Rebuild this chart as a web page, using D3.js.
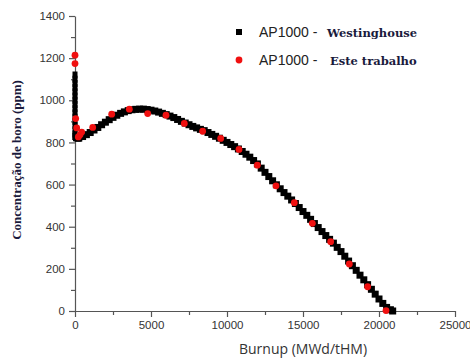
<!DOCTYPE html>
<html>
<head>
<meta charset="utf-8">
<script src="https://cdn.jsdelivr.net/npm/d3@7"></script>
<style>
  body { margin: 0; background: #fff; }
  .tick text { font-family: "Liberation Sans", Arial, sans-serif; font-size: 11.5px; fill: #333; }
  .domain, .tick line { stroke: #555; stroke-width: 1.2; }
</style>
</head>
<body>
<script>
// Westinghouse curve (black squares)
const westBurnup = [
  0, 0, 0, 0, 0, 0, 0, 0, 0, 0, 0, 0, 0, 0, 0, 50, 100, 200,
  250, 500, 750, 1000, 1250, 1500, 1750, 2000, 2250, 2500, 2750, 3000,
  3250, 3500, 3750, 4000, 4250, 4500, 4750, 5000, 5250, 5500, 5750, 6000,
  6250, 6500, 6750, 7000, 7250, 7500, 7750, 8000, 8250, 8500, 8750, 9000,
  9250, 9500, 9750, 10000, 10250, 10500, 10750, 11000, 11250, 11500, 11750, 12000,
  12250, 12500, 12750, 13000, 13250, 13500, 13750, 14000, 14250, 14500, 14750, 15000,
  15250, 15500, 15750, 16000, 16250, 16500, 16750, 17000, 17250, 17500, 17750, 18000,
  18250, 18500, 18750, 19000, 19250, 19500, 19750, 20000, 20250, 20500, 20750, 20900
];
const westBoron = [
  1120, 1100, 1080, 1060, 1040, 1020, 1000, 980, 960, 940, 920, 900, 880, 860, 840, 828, 822, 820,
  821, 828, 837, 847, 859, 871, 884, 896, 908, 919, 929, 938,
  945, 951, 955, 957, 958, 958, 956, 953, 949, 944, 938, 932,
  925, 918, 909, 900, 892, 884, 876, 869, 862, 856, 847, 838,
  829, 820, 810, 800, 790, 780, 769, 757, 744, 730, 714, 698,
  678, 658, 638, 618, 599, 580, 562, 545, 527, 510, 491, 472,
  454, 435, 415, 396, 377, 358, 340, 322, 302, 282, 260, 237,
  215, 193, 170, 148, 125, 103, 80, 57, 36, 17, 6, 0
];

// Este trabalho (red circles)
const thisBurnup = [
  0, 0, 46, 110, 217, 329, 440, 1164, 2414, 3575, 4781, 5987,
  7193, 8399, 9584, 10789, 11996, 13224, 14430, 15614, 16820, 18048, 19253, 20460
];
const thisBoron = [
  1214, 1174, 913, 869, 826, 836, 849, 871, 934, 958, 937, 929,
  890, 853, 819, 767, 692, 594, 514, 416, 329, 223, 115, 2
];

const xTicks = [0, 5000, 10000, 15000, 20000, 25000];
const yTicks = [0, 200, 400, 600, 800, 1000, 1200, 1400];

const canvass = { width: 470, height: 358, left: 75, right: 455, top: 16, bottom: 311 };

const svg = d3.select("body").append("svg")
  .attr("width", canvass.width)
  .attr("height", canvass.height);

const xScale = d3.scaleLinear().domain([0, 25000]).range([canvass.left, canvass.right]);
const yScale = d3.scaleLinear().domain([0, 1400]).range([canvass.bottom, canvass.top]);

// minor ticks first, majors on top
svg.append("g")
  .attr("transform", `translate(0,${canvass.bottom})`)
  .call(d3.axisBottom(xScale).tickValues(d3.range(2500, 25000, 5000)).tickSize(4).tickFormat(""))
  .call((g) => g.select(".domain").remove());
svg.append("g")
  .attr("transform", `translate(${canvass.left},0)`)
  .call(d3.axisLeft(yScale).tickValues(d3.range(100, 1400, 200)).tickSize(4).tickFormat(""))
  .call((g) => g.select(".domain").remove());

svg.append("g")
  .attr("id", "x-axis")
  .attr("transform", `translate(0,${canvass.bottom})`)
  .call(d3.axisBottom(xScale).tickValues(xTicks).tickSize(6).tickSizeOuter(0).tickPadding(4).tickFormat(d3.format("d")));

svg.append("g")
  .attr("id", "y-axis")
  .attr("transform", `translate(${canvass.left},0)`)
  .call(d3.axisLeft(yScale).tickValues(yTicks).tickSize(6).tickSizeOuter(0).tickPadding(4).tickFormat(d3.format("d")));

// black squares
const sq = 7;
svg.append("g")
  .selectAll("rect")
  .data(westBurnup)
  .enter()
  .append("rect")
  .attr("x", (d, i) => xScale(d) - (i < 15 ? 2.5 : sq / 2))
  .attr("y", (d, i) => yScale(westBoron[i]) - sq / 2)
  .attr("width", (d, i) => (i < 15 ? 5 : sq))
  .attr("height", sq)
  .attr("fill", "#000");

// red circles
svg.append("g")
  .selectAll("circle")
  .data(thisBurnup)
  .enter()
  .append("circle")
  .attr("cx", (d) => xScale(d))
  .attr("cy", (d, i) => yScale(thisBoron[i]))
  .attr("r", 3.4)
  .attr("fill", "#f01010");

// axis titles
svg.append("text")
  .attr("x", 303)
  .attr("y", 354)
  .attr("text-anchor", "middle")
  .style("font-family", "'Open Sans', sans-serif")
  .style("font-size", "14px")
  .style("fill", "#333")
  .text("Burnup (MWd/tHM)");

svg.append("text")
  .attr("transform", "translate(21,160) rotate(-90)")
  .attr("text-anchor", "middle")
  .style("font-family", "'Liberation Serif', serif")
  .style("font-weight", "bold")
  .style("font-size", "13px")
  .style("fill", "#1a1a3c")
  .text("Concentração de boro (ppm)");

// legend
const legend = svg.append("g");
legend.append("rect").attr("x", 236).attr("y", 29).attr("width", 6).attr("height", 6).attr("fill", "#000");
legend.append("circle").attr("cx", 239).attr("cy", 60).attr("r", 3.4).attr("fill", "#f01010");

const legendRows = [
  { y: 37, name: "Westinghouse", nx: 327 },
  { y: 65, name: "Este trabalho", nx: 330 },
];
legendRows.forEach((r) => {
  legend.append("text")
    .attr("x", 259).attr("y", r.y)
    .style("font-family", "'Liberation Sans', Arial, sans-serif")
    .style("font-size", "14px")
    .style("fill", "#222")
    .text("AP1000 -");
  legend.append("text")
    .attr("x", r.nx).attr("y", r.y)
    .style("font-family", "'DejaVu Serif', serif")
    .style("font-weight", "bold")
    .style("font-size", "11.5px")
    .style("fill", "#1a1a3c")
    .text(r.name);
});
</script>
</body>
</html>
